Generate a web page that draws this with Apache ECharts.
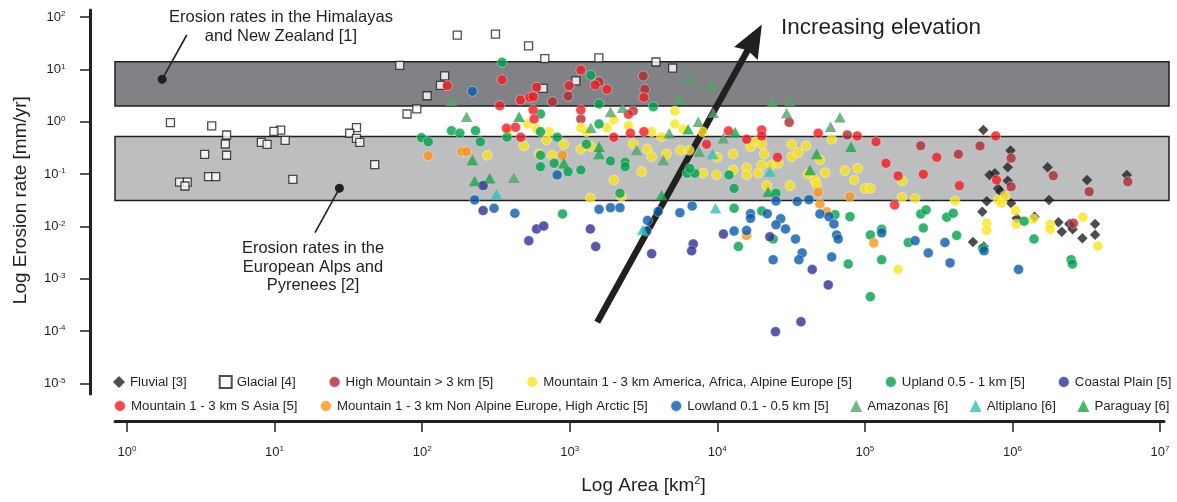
<!DOCTYPE html>
<html>
<head>
<meta charset="utf-8">
<script src="https://cdn.jsdelivr.net/npm/echarts@6/dist/echarts.min.js"></script>
<style>html,body{margin:0;padding:0;background:#fff}#chart{width:1177px;height:502px}</style>
</head>
<body>
<div id="chart"></div>
<script>
// ---------- data: [area km², erosion rate mm/yr] ----------
const seriesNames = [
  'Fluvial [3]', 'Glacial [4]', 'High Mountain > 3 km [5]',
  'Mountain 1 - 3 km America, Africa, Alpine Europe [5]', 'Upland 0.5 - 1 km [5]', 'Coastal Plain [5]',
  'Mountain 1 - 3 km S Asia [5]', 'Mountain 1 - 3 km Non Alpine Europe, High Arctic [5]',
  'Lowland 0.1 - 0.5 km [5]', 'Amazonas [6]', 'Altiplano [6]', 'Paraguay [6]'
];

const fluvial = [
  [6.35e5,0.69],[9.7e5,0.28],[9.3e5,0.134],[7.0e5,0.096],[7.6e5,0.103],[9.3e5,0.074],[8.0e5,0.053],
  [8.3e5,0.046],[6.7e5,0.030],[6.25e5,0.019],[9.8e5,0.0275],[1.73e6,0.134],[3.2e6,0.077],[1.77e6,0.032],
  [5.96e6,0.096],[5.4e5,0.0050],[6.4e5,0.0041],[1.07e6,0.0142],[1.41e6,0.0153],[2.05e6,0.0119],
  [2.16e6,0.0079],[2.43e6,0.0111],[2.56e6,0.0088],[3.63e6,0.0111],[3.63e6,0.0069],[2.98e6,0.0059]
];
const glacial = [
  [70.5,11.9],[142,7.5],[133,4.95],[108,3.13],[92,1.75],[79,1.40],[1.97,0.955],[3.75,0.83],[4.73,0.556],
  [4.64,0.374],[4.73,0.228],[3.36,0.238],[11.0,0.69],[9.9,0.654],[8.14,0.403],[8.9,0.369],[11.8,0.44],
  [35.9,0.767],[32.3,0.60],[35.9,0.481],[37.8,0.403],[47.7,0.151],[13.3,0.079],[2.27,0.070],[2.56,0.070],
  [2.47,0.059],[3.57,0.089],[3.99,0.089],[173,45],[314,47],[526,28],[678,16],[1575,16.5],[3840,13.8],
  [4980,10.5],[1100,6.0],[660,4.34]
];
const highMountain = [
  [764,2.41],[975,3.09],[1580,5.73],[3150,7.46],[3230,4.15],[1190,1.12],[2690,1.6],[3.07e4,0.97],
  [7.6e4,0.556],[2.39e5,0.347],[4.3e5,0.238],[6.03e5,0.343],[9.8e5,0.20],[9.8e5,0.057],[1.89e6,0.093],
  [3.31e6,0.046],[6.05e6,0.071],[2.59e6,0.0114]
];
const mountainAmerica = [
  [1990,1.08],[5160,1.6],[5160,0.902],[517,0.902],[596,0.724],[382,0.643],[725,0.643],[696,0.446],
  [912,0.369],[489,0.343],[1190,0.767],[1300,0.643],[1790,0.767],[2500,0.837],[3590,0.643],[4190,0.516],
  [5870,0.715],[7950,0.643],[1.8e4,0.414],[1.68e4,0.332],[2.0e4,0.369],[3.19e4,0.369],[3.99e4,0.347],
  [277,0.228],[621,0.241],[760,0.228],[1190,0.296],[1390,0.332],[2690,0.374],[3350,0.30],[3590,0.214],
  [4530,0.241],[5640,0.284],[6450,0.284],[9980,0.208],[1.28e4,0.241],[2.08e4,0.241],[3.19e4,0.214],
  [3.53e4,0.255],[3070,0.111],[8020,0.103],[9890,0.096],[1.28e4,0.119],[1.58e4,0.132],[1.58e4,0.096],
  [1.89e4,0.103],[2.0e4,0.149],[2.33e4,0.149],[2.59e4,0.16],[4.59e4,0.077],[3.11e4,0.060],[2.16e4,0.060],
  [1990,0.077],[1380,0.035],[2245,0.037],[5.96e4,0.46],[4.13e4,0.10],[4.71e4,0.064],[5.37e4,0.106],
  [4.96e4,0.185],[7.33e4,0.116],[8.94e4,0.128],[8.47e4,0.077],[1.0e5,0.053],[1.09e5,0.053],[1.79e5,0.074],
  [1.79e5,0.036],[2.19e5,0.034],[4.08e5,0.0305],[8.0e5,0.032],[8.46e5,0.0275],[8.9e5,0.038],[6.7e5,0.0114],
  [6.7e5,0.0083],[1.05e6,0.020],[1.06e6,0.0109],[1.39e6,0.0138],[1.8e6,0.0109],[1.8e6,0.0088],[3.0e6,0.0149],
  [3.79e6,0.0042],[1.68e5,0.0015]
];
const upland = [
  [348,13.6],[1390,7.69],[1580,2.18],[3680,1.93],[634,1.4],[1580,0.902],[158,0.672],[180,0.60],[230,0.672],
  [248,0.414],[376,0.503],[634,0.643],[822,0.503],[99,0.494],[110,0.414],[634,0.228],[634,0.138],[784,0.16],
  [975,0.111],[1190,0.119],[1300,0.369],[1890,0.177],[2375,0.167],[2375,0.138],[6250,0.103],[7050,0.103],
  [6520,0.128],[1.2e4,0.096],[2.5e4,0.043],[2190,0.043],[1.3e4,0.053],[894,0.0172],[1.3e4,0.0221],
  [2.0e4,0.0196],[2.39e4,0.0057],[1.39e4,0.0041],[6.27e4,0.0167],[7.93e4,0.0153],[7.71e4,0.0019],
  [1.09e5,0.0068],[1.3e5,0.0088],[1.3e5,0.0023],[1.09e5,0.00045],[1.97e5,0.0049],[2.39e5,0.0172],
  [2.6e5,0.0205],[2.49e5,0.0093],[3.59e5,0.0149],[3.97e5,0.0177],[4.19e5,0.0067],[6.29e5,0.0038],
  [1.2e6,0.0125],[1.4e6,0.0057],[2.5e6,0.0023],[2.55e6,0.0019]
];
const coastalPlain = [
  [259,0.060],[259,0.020],[596,0.0089],[667,0.0101],[528,0.0053],[1380,0.0089],[1500,0.0041],[3590,0.0030],
  [6870,0.0046],[6700,0.0034],[1.1e4,0.0071],[2.27e4,0.0063],[4.4e4,0.0015],[2.48e4,0.000097],
  [3.69e4,0.00015],[5.65e4,0.00076]
];
const mountainSAsia = [
  [148,4.87],[348,6.34],[596,4.54],[464,2.59],[536,2.92],[565,3.0],[336,2.02],[991,4.87],[1190,9.7],
  [1490,5.02],[1790,4.15],[3180,2.92],[565,1.67],[574,1.12],[1190,1.67],[2500,1.38],[373,0.747],[429,0.78],
  [466,0.503],[2580,0.60],[3180,0.643],[1990,0.503],[1.19e4,0.663],[1.58e4,0.46],[2.0e4,0.693],[2.0e4,0.532],
  [4.83e4,0.60],[8460,0.369],[2.56e4,0.208],[8.88e4,0.532],[1.19e5,0.414],[3.07e5,0.208],[7.7e5,0.532],
  [7.8e5,0.077],[1.39e5,0.16],[1.68e5,0.092],[2.49e5,0.099],[4.37e5,0.060],[1.59e5,0.0255]
];
const mountainNonAlpine = [
  [110,0.224],[186,0.267],[200,0.267],[894,0.228],[4.83e4,0.0447],[4.96e4,0.0267],[5.51e4,0.019],
  [7.93e4,0.0368],[1.15e5,0.0048],[1.58e4,0.0067]
];
const lowland = [
  [219,3.8],[822,0.096],[227,0.032],[307,0.0221],[425,0.0177],[1580,0.0211],[1890,0.0227],[2190,0.0227],
  [3975,0.0192],[3370,0.0129],[3320,0.0081],[5580,0.0182],[6760,0.0245],[1.3e4,0.0081],[1.58e4,0.0083],
  [1.68e4,0.0174],[1.68e4,0.0142],[2.18e4,0.0174],[2.69e4,0.014],[2.5e4,0.0107],[2.9e4,0.0089],[2.5e4,0.0305],
  [3.48e4,0.0298],[4.18e4,0.0323],[3.39e4,0.0057],[3.76e4,0.0031],[3.57e4,0.0023],[2.39e4,0.0023],
  [4.96e4,0.0172],[5.71e4,0.0153],[6.17e4,0.0111],[6.44e4,0.0068],[6.6e4,0.0057],[5.96e4,0.0026],
  [1.3e5,0.0075],[2.19e5,0.0053],[2.69e5,0.0031],[3.49e5,0.0049],[3.78e5,0.0020],[6.42e5,0.0034],[1.1e6,0.0015]
];
const amazonas = [
  [6450,6.62],[9150,5.02],[5580,2.67],[2.36e4,2.41],[3.11e4,2.48],[2.95e4,1.44],[158,2.51],[200,1.24],
  [1890,1.53],[2280,1.85],[1390,0.767],[4720,0.60],[7430,1.0],[9380,1.48],[1.1e4,0.481],[2840,0.287],
  [4300,0.185],[7540,0.267],[418,0.085],[5.86e4,0.80],[6.78e4,1.21]
];
const altiplano = [[9290,0.241],[2.27e4,0.111],[319,0.041],[9730,0.0221],[3120,0.0085]];
const paraguay = [
  [454,1.24],[6350,0.715],[1.32e4,0.626],[219,0.185],[912,0.16],[1580,0.332],[1580,0.241],[227,0.0735],
  [287,0.0827],[4190,0.0397],[2.21e4,0.0459],[4.25e4,0.119],[4.71e4,0.241],[8.05e4,0.332]
];

// erosion-rate ranges [low, high] (mm/yr)
const himalayaBand = [2.0, 14];
const alpsBand = [0.031, 0.52];

// annotation anchors [area, rate]
const arrowFrom = [1536, 1.47e-4];
const arrowTo = [1.77e4, 38];
const himalayaPointer = [[1.73, 6.45], [2.54, 45.3]];
const alpsPointer = [[27.5, 0.0533], [18.8, 0.00755]];

// axis extents
const areaRange = [1, 1e7];
const rateRange = [1e-5, 100];

// ---------- chart ----------
const ink = '#231f20';
const FONT = '"Liberation Sans", Arial, Helvetica, sans-serif';

function powerLabel(v) {
  const e = Math.round(Math.log10(v));
  return '{b|10}{s|' + e + '}';
}
const tickRich = {
  b: { fontSize: 13, lineHeight: 14, color: ink, fontFamily: FONT },
  s: { fontSize: 8, lineHeight: 7, verticalAlign: 'top', color: ink, fontFamily: FONT }
};

function sc(name, data, symbol, size, itemStyle, extra) {
  return Object.assign({
    name, type: 'scatter', data, symbol, symbolSize: size,
    xAxisIndex: 0, yAxisIndex: 0, z: 3, itemStyle, silent: true
  }, extra || {});
}
const dot = c => ({ color: c, borderColor: '#ffffff', borderWidth: 0.5 });

const series = [
  {
    type: 'custom', xAxisIndex: 2, yAxisIndex: 2, z: 1, silent: true,
    data: [[0, 1, himalayaBand[0], himalayaBand[1]], [0, 1, alpsBand[0], alpsBand[1]]],
    encode: { x: [0, 1], y: [2, 3] },
    renderItem: function (params, api) {
      const tl = api.coord([api.value(0), api.value(3)]);
      const br = api.coord([api.value(1), api.value(2)]);
      return {
        type: 'rect',
        shape: { x: tl[0], y: tl[1], width: br[0] - tl[0], height: br[1] - tl[1] },
        style: { fill: params.dataIndex === 0 ? '#808285' : '#bcbec0', stroke: ink, lineWidth: 1.5 }
      };
    }
  },
  sc(seriesNames[0], fluvial, 'diamond', 10.5, { color: ink }, {
    markLine: {
      silent: true, z: 2, animation: false,
      label: { show: false },
      data: [
        [
          { coord: arrowFrom, symbol: 'none', lineStyle: { color: ink, width: 6.5, type: 'solid' } },
          { coord: arrowTo, symbol: 'path://M0,0L13,32L0,28.5L-13,32Z', symbolSize: [27, 33] }
        ],
        [
          { coord: himalayaPointer[0], symbol: 'circle', symbolSize: 9, lineStyle: { color: ink, width: 1.6, type: 'solid' } },
          { coord: himalayaPointer[1], symbol: 'none' }
        ],
        [
          { coord: alpsPointer[0], symbol: 'circle', symbolSize: 9, lineStyle: { color: ink, width: 1.6, type: 'solid' } },
          { coord: alpsPointer[1], symbol: 'none' }
        ]
      ]
    }
  }),
  sc(seriesNames[1], glacial, 'rect', 8, { color: '#ffffff', borderColor: ink, borderWidth: 1.3 }),
  sc(seriesNames[2], highMountain, 'circle', 10, dot('#ad2a30')),
  sc(seriesNames[3], mountainAmerica, 'circle', 10, dot('#f9e423')),
  sc(seriesNames[4], upland, 'circle', 10, dot('#00a04a')),
  sc(seriesNames[5], coastalPlain, 'circle', 10, dot('#2e3192')),
  sc(seriesNames[6], mountainSAsia, 'circle', 10, dot('#ed1c24')),
  sc(seriesNames[7], mountainNonAlpine, 'circle', 10, dot('#f7941d')),
  sc(seriesNames[8], lowland, 'circle', 10, dot('#0b5aa8')),
  sc(seriesNames[9], amazonas, 'triangle', [11.5, 10.5], { color: '#52a46c' }),
  sc(seriesNames[10], altiplano, 'triangle', [11.5, 10.5], { color: '#33bfbc' }),
  sc(seriesNames[11], paraguay, 'triangle', [11.5, 10.5], { color: '#1aa64a' })
];

const legendText = { fontSize: 13.25, color: ink, fontFamily: FONT, lineHeight: 14 };

const option = {
  animation: false,
  backgroundColor: '#ffffff',
  textStyle: { fontFamily: FONT, color: ink },
  grid: [
    { left: 127, right: 17, top: 17, bottom: 118.7, outerBoundsMode: 'none', containLabel: false },
    { left: 115, right: 13, top: 10, bottom: 108, outerBoundsMode: 'none', containLabel: false },
    { left: 115, right: 8, top: 17, bottom: 118.7, outerBoundsMode: 'none', containLabel: false }
  ],
  xAxis: [
    {
      gridIndex: 0, type: 'log', logBase: 10, min: areaRange[0], max: areaRange[1],
      position: 'bottom', offset: 37.7,
      axisLine: { show: false, onZero: false },
      axisTick: { show: true, length: 11, lineStyle: { color: ink, width: 1.5 } },
      axisLabel: { show: true, margin: 24, formatter: powerLabel, rich: tickRich, color: ink },
      splitLine: { show: false },
      name: 'Log Area [km{sup|2}]', nameLocation: 'middle', nameGap: 54,
      nameTextStyle: {
        fontSize: 19, lineHeight: 22, color: ink, fontFamily: FONT,
        rich: { sup: { fontSize: 11, lineHeight: 11, verticalAlign: 'top', color: ink, fontFamily: FONT } }
      }
    },
    {
      gridIndex: 1, type: 'value', min: 0, max: 1, position: 'bottom', offset: 27,
      axisLine: { show: true, onZero: false, lineStyle: { color: ink, width: 3 } },
      axisTick: { show: false }, axisLabel: { show: false }, splitLine: { show: false }
    },
    { gridIndex: 2, type: 'value', min: 0, max: 1, show: false }
  ],
  yAxis: [
    {
      gridIndex: 0, type: 'log', logBase: 10, min: rateRange[0], max: rateRange[1],
      position: 'left', offset: 37,
      axisLine: { show: false, onZero: false },
      axisTick: { show: true, length: 10, lineStyle: { color: ink, width: 1.5 } },
      axisLabel: { show: true, margin: 24.5, formatter: powerLabel, rich: tickRich, color: ink },
      splitLine: { show: false },
      name: 'Log Erosion rate [mm/yr]', nameLocation: 'middle', nameGap: 58, nameRotate: 90,
      nameTextStyle: { fontSize: 19, lineHeight: 22, color: ink, fontFamily: FONT }
    },
    {
      gridIndex: 1, type: 'value', min: 0, max: 1, position: 'left', offset: 25,
      axisLine: { show: true, onZero: false, lineStyle: { color: ink, width: 3 } },
      axisTick: { show: false }, axisLabel: { show: false }, splitLine: { show: false }
    },
    { gridIndex: 2, type: 'log', logBase: 10, min: rateRange[0], max: rateRange[1], show: false }
  ],
  legend: [
    {
      data: seriesNames.slice(0, 6), left: 113, top: 375, padding: 0, itemGap: 32,
      itemWidth: 12, itemHeight: 12, selectedMode: false, textStyle: legendText
    },
    {
      data: seriesNames.slice(6), left: 113, top: 399, padding: 0, itemGap: 21.5,
      itemWidth: 12, itemHeight: 12, selectedMode: false, textStyle: legendText
    }
  ],
  graphic: [
    {
      type: 'text', x: 281, y: 8, z: 10, silent: true,
      style: {
        text: 'Erosion rates in the Himalayas\nand New Zealand [1]',
        fill: ink, fontSize: 16.5, fontFamily: FONT, lineHeight: 19,
        align: 'center', verticalAlign: 'top'
      }
    },
    {
      type: 'text', x: 313, y: 239.5, z: 10, silent: true,
      style: {
        text: 'Erosion rates in the\nEuropean Alps and\nPyrenees [2]',
        fill: ink, fontSize: 16.5, fontFamily: FONT, lineHeight: 18.5,
        align: 'center', verticalAlign: 'top'
      }
    },
    {
      type: 'text', x: 781, y: 28, z: 10, silent: true,
      style: {
        text: 'Increasing elevation',
        fill: ink, fontSize: 22.5, fontFamily: FONT,
        align: 'left', verticalAlign: 'middle'
      }
    }
  ],
  series
};

const chart = echarts.init(document.getElementById('chart'), null, { renderer: 'canvas' });
chart.setOption(option);
</script>
</body>
</html>
